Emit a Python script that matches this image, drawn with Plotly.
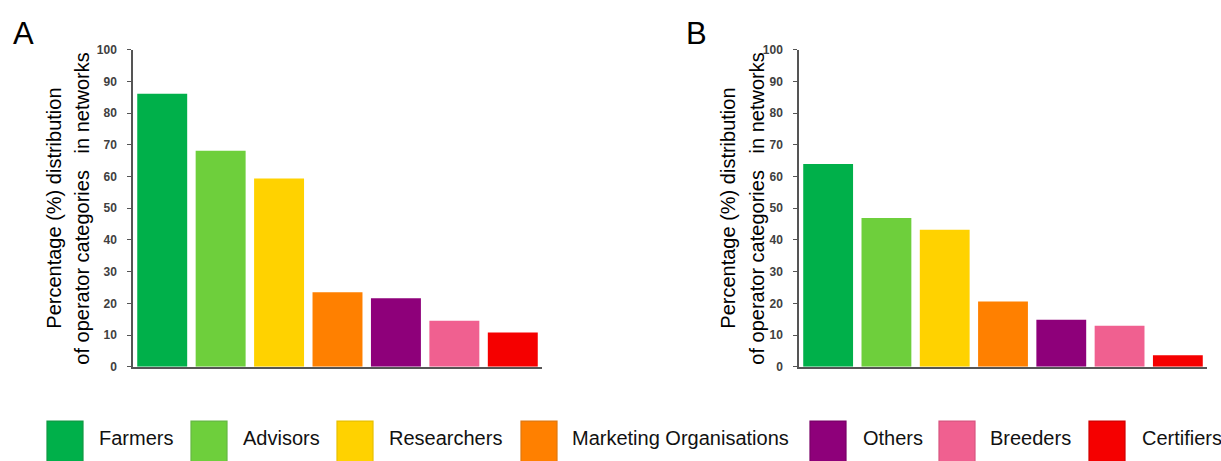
import plotly.graph_objects as go

categories = ["Farmers", "Advisors", "Researchers", "Marketing Organisations",
              "Others", "Breeders", "Certifiers"]
values_a = [86.1, 68.1, 59.4, 23.5, 21.6, 14.5, 10.8]
values_b = [63.9, 46.9, 43.2, 20.6, 14.8, 12.9, 3.6]
y_ticks = [0, 10, 20, 30, 40, 50, 60, 70, 80, 90, 100]
panel_labels = ["A", "B"]
y_title_line1 = "Percentage (%) distribution"
y_title_line2 = "of operator categories\u00a0\u00a0\u00a0in networks"

colors = ["#00B04A", "#6ECF3C", "#FFD200", "#FF8000", "#8E007A", "#F06090", "#F50000"]
edge_colors = ["#119944", "#66B844", "#E8C000", "#E07810", "#7A0068", "#D85580", "#D00000"]

W, H = 1221, 461


def px_x(v):
    return v / W


def px_y(v):
    return 1 - v / H


fig = go.Figure()
fig.add_trace(go.Bar(x=categories, y=values_a, marker=dict(color=colors, line=dict(width=0)),
                     xaxis="x", yaxis="y", showlegend=False, hoverinfo="skip"))
fig.add_trace(go.Bar(x=categories, y=values_b, marker=dict(color=colors, line=dict(width=0)),
                     xaxis="x2", yaxis="y2", showlegend=False, hoverinfo="skip"))

axis_line = "#555555"
tick_font = dict(family="Liberation Sans", size=12, color="#404040", weight="bold")

xcommon = dict(type="category", range=[-0.5, 6.5], showline=True, linecolor=axis_line,
               linewidth=1.5, showticklabels=False, ticks="", showgrid=False, zeroline=False,
               fixedrange=True)
ycommon = dict(range=[0, 100], tickvals=y_ticks, showline=True, linecolor=axis_line,
               linewidth=1.5, ticks="outside", ticklen=4, tickcolor=axis_line, tickwidth=1,
               showgrid=False, zeroline=False, tickfont=tick_font, ticklabelstandoff=8,
               fixedrange=True)

ydom = [px_y(371), px_y(44)]
fig.update_layout(
    autosize=True,
    margin=dict(l=0, r=0, t=0, b=0),
    paper_bgcolor="white", plot_bgcolor="white",
    bargap=0.145,
    xaxis=dict(domain=[px_x(133), px_x(542)], anchor="y", **xcommon),
    yaxis=dict(domain=ydom, anchor="x", **ycommon),
    xaxis2=dict(domain=[px_x(799), px_x(1207)], anchor="y2", **xcommon),
    yaxis2=dict(domain=ydom, anchor="x2", **ycommon),
    font=dict(family="Liberation Sans"),
)

annotations = []
# panel letters
for lab, lx in zip(panel_labels, [23, 696]):
    annotations.append(dict(text=lab, x=px_x(lx), y=px_y(27), xref="paper", yref="paper",
                            xanchor="center", yanchor="middle", showarrow=False,
                            font=dict(family="Liberation Sans", size=31, color="black")))
# y titles
for l1x, l2x in [(54, 82), (728, 757)]:
    for txt, xx in [(y_title_line1, l1x), (y_title_line2, l2x)]:
        annotations.append(dict(text=txt, x=px_x(xx), y=px_y(208), xref="paper", yref="paper",
                                xanchor="center", yanchor="middle", textangle=-90,
                                showarrow=False,
                                font=dict(family="Liberation Sans", size=20, color="black")))

# legend (boxes + labels)
legend_box_x = [47, 191, 337, 521, 810, 939, 1089]
legend_text_x = [97, 241, 387, 570, 861, 988, 1140]
shapes = []
for i, cat in enumerate(categories):
    bx = legend_box_x[i]
    shapes.append(dict(type="rect", xref="paper", yref="paper",
                       x0=px_x(bx), x1=px_x(bx + 36), y0=px_y(475), y1=px_y(427),
                       fillcolor=colors[i], line=dict(color=edge_colors[i], width=1.2)))
    annotations.append(dict(text=cat, x=px_x(legend_text_x[i]), y=px_y(445), xref="paper",
                            yref="paper", xanchor="left", yanchor="middle", showarrow=False,
                            font=dict(family="Liberation Sans", size=20, color="#111111")))

fig.update_layout(annotations=annotations, shapes=shapes)
fig.write_html(
    "out.html",
    default_width="100vw",
    default_height="100vh",
    config={"displayModeBar": False, "responsive": True},
    post_script="document.body.style.margin='0';document.body.style.overflow='hidden';"
                "document.documentElement.style.overflow='hidden';",
)
